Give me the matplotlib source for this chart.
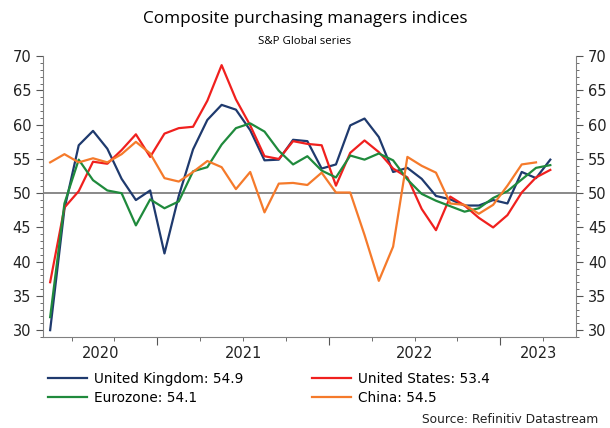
import matplotlib

matplotlib.use("Agg")

import matplotlib.pyplot as plt
import numpy as np
from matplotlib.ticker import MultipleLocator, NullFormatter
from matplotlib.transforms import blended_transform_factory

# monthly readings, May 2020 .. Apr 2023
uk = [30.0, 47.7, 57.0, 59.1, 56.5, 52.1, 49.0, 50.4, 41.2, 49.6, 56.4, 60.7,
      62.9, 62.2, 59.2, 54.8, 54.9, 57.8, 57.6, 53.6, 54.2, 59.9, 60.9, 58.2,
      53.1, 53.7, 52.1, 49.6, 49.1, 48.2, 48.2, 49.0, 48.5, 53.1, 52.2, 54.9]
us = [37.0, 47.9, 50.3, 54.6, 54.3, 56.3, 58.6, 55.3, 58.7, 59.5, 59.7, 63.5,
      68.7, 63.7, 59.9, 55.4, 55.0, 57.6, 57.2, 57.0, 51.1, 55.9, 57.7, 56.0,
      53.6, 52.3, 47.7, 44.6, 49.5, 48.2, 46.4, 45.0, 46.8, 50.1, 52.3, 53.4]
eurozone = [31.9, 48.5, 54.9, 51.9, 50.4, 50.0, 45.3, 49.1, 47.8, 48.8, 53.2, 53.8,
            57.1, 59.5, 60.2, 59.0, 56.2, 54.2, 55.4, 53.3, 52.3, 55.5, 54.9, 55.8,
            54.8, 52.0, 49.9, 48.9, 48.1, 47.3, 47.8, 49.3, 50.3, 52.0, 53.7, 54.1]
china = [54.5, 55.7, 54.5, 55.1, 54.5, 55.7, 57.5, 55.8, 52.2, 51.7, 53.1, 54.7,
         53.8, 50.6, 53.1, 47.2, 51.4, 51.5, 51.2, 53.0, 50.1, 50.1, 43.9, 37.2,
         42.2, 55.3, 54.0, 53.0, 48.5, 48.3, 47.0, 48.3, 51.1, 54.2, 54.5]

series = [
    ("United Kingdom", uk, "#1f3a6e"),
    ("United States", us, "#f0201e"),
    ("Eurozone", eurozone, "#1f8a3c"),
    ("China", china, "#f57a2b"),
]

years = ["2020", "2021", "2022", "2023"]
first_month = 4  # May 2020 is month index 0

fig = plt.figure(figsize=(6.10, 4.28), dpi=100)
ax = fig.add_axes([0.0705, 0.2126, 0.8738, 0.656])

for name, values, color in series:
    ax.plot(np.arange(len(values)), values, color=color, lw=1.6,
            label=f"{name}: {values[-1]:.1f}")

ax.axhline(50, color="#808080", lw=1.3, zorder=0)

x_lo, x_hi = -0.5, 36.8
ax.set_xlim(x_lo, x_hi)
ax.set_ylim(29, 70)

# year boundaries (between December and January) and quarter ticks
boundaries = [12 * k - first_month - 0.5 for k in range(1, len(years))]
quarters = [b for b in np.arange(1.5, x_hi, 3) if b not in boundaries]
ax.set_xticks(boundaries)
ax.set_xticks(quarters, minor=True)
ax.xaxis.set_major_formatter(NullFormatter())
ax.tick_params(axis="x", which="major", length=6, color="#555555")
ax.tick_params(axis="x", which="minor", length=3, color="#555555")

edges = [x_lo] + boundaries + [x_hi]
trans = blended_transform_factory(ax.transData, ax.transAxes)
for yr, left, right in zip(years, edges[:-1], edges[1:]):
    ax.text((left + right) / 2, -0.057, yr, transform=trans, ha="center",
            va="center", fontsize=10.5, color="#222222")

ax.set_yticks(range(30, 71, 5))
ax.yaxis.set_minor_locator(MultipleLocator(1))
ax.tick_params(axis="y", which="both", left=True, right=True,
               labelleft=True, labelright=True, labelsize=10.5,
               labelcolor="#222222", color="#555555")
ax.tick_params(axis="y", which="major", length=5)
ax.tick_params(axis="y", which="minor", length=2.5)

for side in ("left", "right", "bottom"):
    ax.spines[side].set_color("#808080")
ax.spines["top"].set_visible(False)

fig.text(0.5, 0.955, "Composite purchasing managers indices", ha="center",
         va="center", fontsize=12.3, family="Open Sans")
fig.text(0.5, 0.903, "S&P Global series", ha="center", va="center",
         fontsize=8.2, family="Open Sans")

handles, labels = ax.get_legend_handles_labels()
order = [0, 2, 1, 3]
fig.legend([handles[i] for i in order], [labels[i] for i in order],
           loc="upper left", bbox_to_anchor=(0.0787, 0.131), ncol=2,
           frameon=False, fontsize=9.8, handlelength=2.9, handletextpad=0.5,
           columnspacing=5.0, labelspacing=0.35, borderaxespad=0,
           borderpad=0)

fig.text(0.98, 0.019, "Source: Refinitiv Datastream", ha="right",
         va="center", fontsize=8.8, color="#222222")

fig.savefig("out.png", dpi=100)
